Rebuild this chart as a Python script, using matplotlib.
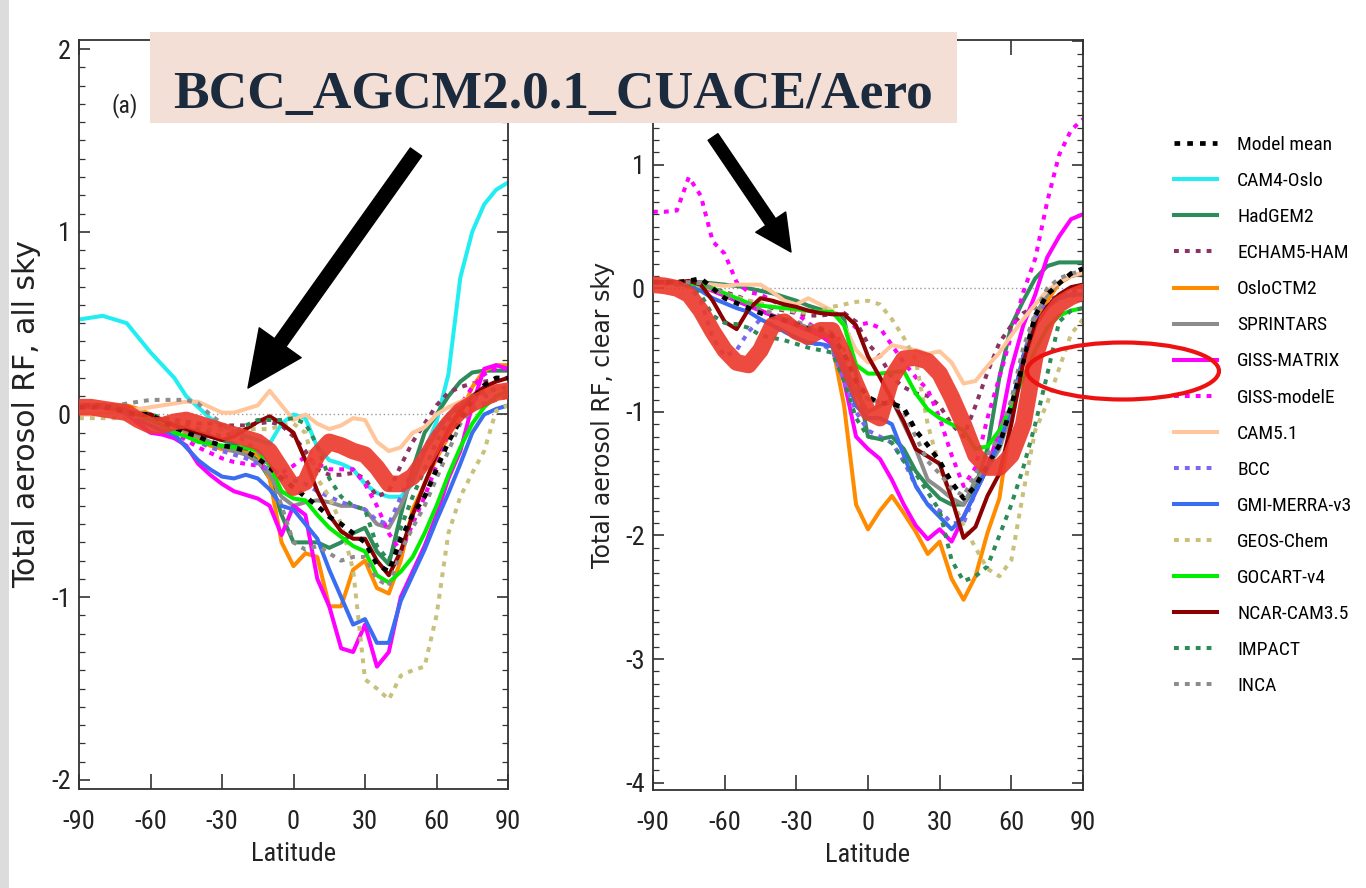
import matplotlib
matplotlib.use("Agg")
import matplotlib.pyplot as plt
from matplotlib import font_manager as fm
from matplotlib.patches import Rectangle, Ellipse, FancyArrowPatch
from matplotlib.ticker import MultipleLocator

# ---------------- data (latitude grid, 5 degree steps) ----------------
lat = list(range(-90, 91, 5))

models = ["Model mean", "CAM4-Oslo", "HadGEM2", "ECHAM5-HAM", "OsloCTM2", "SPRINTARS",
          "GISS-MATRIX", "GISS-modelE", "CAM5.1", "BCC", "GMI-MERRA-v3", "GEOS-Chem",
          "GOCART-v4", "NCAR-CAM3.5", "IMPACT", "INCA"]

xticks = [-90, -60, -30, 0, 30, 60, 90]
yticks_a = [-2, -1, 0, 1, 2]
yticks_b = [-4, -3, -2, -1, 0, 1, 2]
title_text = "BCC_AGCM2.0.1_CUACE/Aero"

# (a) all sky
mean_a = [0.04,0.04,0.04,0.03,0.01,0.0,0.0,-0.04,-0.07,-0.1,-0.12,-0.15,-0.17,-0.18,-0.2,-0.24,-0.29,-0.35,-0.4,-0.45,-0.5,-0.56,-0.6,-0.65,-0.7,-0.82,-0.86,-0.68,-0.55,-0.45,-0.3,-0.15,-0.03,0.08,0.16,0.2,0.2]
cam4_a = [0.52,0.53,0.54,0.52,0.5,0.42,0.34,0.27,0.2,0.1,0.04,-0.02,-0.06,-0.09,-0.12,-0.14,-0.16,-0.05,0.0,-0.02,-0.18,-0.25,-0.27,-0.3,-0.38,-0.43,-0.45,-0.45,-0.38,-0.2,-0.04,0.22,0.75,1.0,1.15,1.23,1.27]
hadgem_a = [0.05,0.05,0.05,0.04,0.02,0.0,-0.01,-0.03,-0.06,-0.08,-0.1,-0.12,-0.14,-0.16,-0.2,-0.25,-0.35,-0.55,-0.7,-0.7,-0.7,-0.73,-0.7,-0.65,-0.62,-0.75,-0.82,-0.55,-0.3,-0.1,0.0,0.1,0.18,0.23,0.24,0.24,0.24]
echam_a = [0.05,0.05,0.04,0.03,0.02,0.0,0.0,-0.02,-0.03,-0.04,-0.05,-0.05,-0.06,-0.06,-0.06,-0.05,-0.04,-0.06,-0.12,-0.2,-0.3,-0.33,-0.33,-0.32,-0.35,-0.45,-0.42,-0.28,-0.15,-0.05,0.05,0.12,0.15,0.17,0.18,0.19,0.2]
oslo_a = [0.05,0.05,0.05,0.05,0.05,0.03,0.0,-0.03,-0.06,-0.1,-0.14,-0.17,-0.19,-0.2,-0.21,-0.22,-0.35,-0.7,-0.83,-0.76,-0.78,-1.05,-1.05,-0.85,-0.8,-0.95,-0.98,-0.8,-0.52,-0.38,-0.24,-0.12,0.0,0.15,0.24,0.27,0.27]
sprint_a = [0.05,0.05,0.05,0.04,0.03,0.01,0.0,-0.03,-0.06,-0.09,-0.12,-0.15,-0.18,-0.2,-0.22,-0.26,-0.33,-0.45,-0.5,-0.48,-0.47,-0.48,-0.5,-0.5,-0.52,-0.6,-0.62,-0.5,-0.35,-0.2,-0.1,0.0,0.05,0.1,0.12,0.14,0.15]
gissm_a = [0.05,0.05,0.05,0.04,0.0,-0.05,-0.1,-0.11,-0.13,-0.17,-0.27,-0.33,-0.38,-0.42,-0.44,-0.46,-0.5,-0.66,-0.5,-0.55,-0.9,-1.05,-1.28,-1.3,-1.15,-1.38,-1.3,-1.0,-0.86,-0.72,-0.55,-0.35,-0.2,0.05,0.25,0.27,0.25]
gisse_a = [0.05,0.05,0.04,0.03,0.01,-0.01,-0.02,-0.06,-0.1,-0.14,-0.18,-0.21,-0.24,-0.26,-0.27,-0.28,-0.3,-0.32,-0.28,-0.23,-0.27,-0.3,-0.3,-0.3,-0.38,-0.5,-0.65,-0.75,-0.6,-0.45,-0.28,-0.1,0.05,0.15,0.22,0.25,0.25]
cam51_a = [0.0,0.0,0.01,0.01,0.02,0.03,0.04,0.05,0.06,0.07,0.07,0.04,0.01,0.01,0.03,0.05,0.13,0.05,-0.03,0.0,-0.05,-0.08,-0.06,-0.02,-0.03,-0.15,-0.2,-0.18,-0.1,-0.07,0.0,0.04,0.07,0.1,0.12,0.14,0.15]
bcc_a = [0.04,0.04,0.04,0.03,0.01,-0.01,-0.03,-0.06,-0.09,-0.12,-0.15,-0.18,-0.2,-0.22,-0.24,-0.27,-0.3,-0.33,-0.36,-0.38,-0.42,-0.45,-0.48,-0.5,-0.52,-0.58,-0.6,-0.45,-0.3,-0.18,-0.08,0.0,0.05,0.08,0.1,0.1,0.1]
gmi_a = [0.04,0.04,0.04,0.03,0.01,-0.03,-0.06,-0.09,-0.11,-0.18,-0.25,-0.3,-0.34,-0.35,-0.33,-0.35,-0.41,-0.5,-0.52,-0.6,-0.68,-0.85,-1.0,-1.15,-1.12,-1.25,-1.25,-1.02,-0.88,-0.74,-0.58,-0.43,-0.27,-0.1,0.0,0.03,0.05]
geos_a = [-0.02,-0.02,-0.02,-0.02,-0.02,-0.01,0.0,-0.02,-0.04,-0.06,-0.07,-0.08,-0.08,-0.08,-0.08,-0.08,-0.08,-0.06,-0.05,-0.1,-0.35,-0.45,-0.6,-0.85,-1.45,-1.5,-1.56,-1.43,-1.4,-1.38,-1.1,-0.65,-0.45,-0.32,-0.2,0.02,0.05]
gocart_a = [0.05,0.05,0.05,0.04,0.02,0.0,-0.03,-0.06,-0.1,-0.12,-0.15,-0.16,-0.17,-0.18,-0.18,-0.2,-0.28,-0.42,-0.46,-0.47,-0.55,-0.62,-0.67,-0.72,-0.75,-0.88,-0.92,-0.86,-0.78,-0.65,-0.5,-0.33,-0.18,-0.05,0.04,0.1,0.13]
ncar_a = [0.05,0.05,0.05,0.04,0.02,0.0,0.0,-0.03,-0.06,-0.08,-0.1,-0.12,-0.14,-0.12,-0.08,-0.04,-0.01,-0.05,-0.1,-0.25,-0.42,-0.55,-0.64,-0.68,-0.68,-0.8,-0.88,-0.75,-0.55,-0.38,-0.22,-0.08,0.02,0.1,0.15,0.18,0.2]
impact_a = [0.05,0.05,0.05,0.04,0.02,0.0,0.0,-0.02,-0.04,-0.06,-0.08,-0.1,-0.12,-0.1,-0.06,-0.03,-0.03,-0.03,-0.02,-0.05,-0.17,-0.35,-0.45,-0.5,-0.52,-0.72,-0.8,-0.62,-0.45,-0.3,-0.15,-0.03,0.05,0.1,0.12,0.14,0.15]
inca_a = [0.05,0.05,0.05,0.05,0.06,0.07,0.08,0.08,0.08,0.08,0.06,0.0,-0.05,-0.1,-0.15,-0.2,-0.3,-0.5,-0.7,-0.74,-0.72,-0.76,-0.8,-0.78,-0.78,-0.9,-0.94,-0.75,-0.62,-0.5,-0.35,-0.2,-0.05,0.03,0.06,0.08,0.1]
bccagcm_a = [0.04,0.04,0.03,0.02,0.01,-0.03,-0.06,-0.06,-0.04,-0.03,-0.05,-0.07,-0.09,-0.11,-0.13,-0.15,-0.2,-0.3,-0.4,-0.37,-0.22,-0.15,-0.17,-0.2,-0.22,-0.29,-0.38,-0.38,-0.34,-0.25,-0.14,-0.05,0.02,0.06,0.09,0.12,0.13]

# (b) clear sky  (CAM4-Oslo not shown)
mean_b = [0.05,0.05,0.05,0.06,0.08,0.0,-0.08,-0.12,-0.16,-0.2,-0.23,-0.26,-0.29,-0.33,-0.33,-0.38,-0.53,-0.75,-0.88,-0.93,-0.93,-0.97,-1.15,-1.27,-1.4,-1.57,-1.7,-1.6,-1.43,-1.27,-0.95,-0.6,-0.22,-0.05,0.04,0.12,0.16]
hadgem_b = [0.05,0.05,0.05,0.05,0.05,0.04,0.03,0.02,0.0,-0.02,-0.04,-0.07,-0.1,-0.14,-0.17,-0.19,-0.25,-0.7,-1.2,-1.22,-1.2,-1.3,-1.48,-1.6,-1.7,-1.75,-1.75,-1.6,-1.3,-0.72,-0.3,-0.1,0.08,0.18,0.21,0.21,0.21]
echam_b = [0.05,0.05,0.05,0.04,0.03,0.0,-0.03,-0.06,-0.1,-0.13,-0.16,-0.18,-0.2,-0.22,-0.22,-0.21,-0.2,-0.27,-0.45,-0.55,-0.72,-0.8,-0.85,-0.87,-0.95,-1.1,-1.2,-0.95,-0.68,-0.44,-0.3,-0.2,-0.15,-0.1,-0.06,-0.03,0.0]
oslo_b = [0.05,0.05,0.05,0.04,0.02,-0.02,-0.06,-0.1,-0.14,-0.18,-0.22,-0.26,-0.3,-0.34,-0.38,-0.45,-0.95,-1.75,-1.95,-1.8,-1.68,-1.82,-1.97,-2.15,-2.05,-2.35,-2.52,-2.33,-1.98,-1.7,-1.05,-0.6,-0.3,-0.1,0.04,0.1,0.12]
sprint_b = [0.05,0.05,0.05,0.05,0.05,0.0,-0.05,-0.1,-0.14,-0.18,-0.22,-0.25,-0.28,-0.32,-0.35,-0.4,-0.6,-0.85,-1.0,-0.95,-0.9,-1.1,-1.3,-1.55,-1.62,-1.7,-1.75,-1.55,-1.45,-1.3,-1.0,-0.55,-0.22,-0.05,0.05,0.1,0.12]
gissm_b = [0.05,0.05,0.05,0.04,0.02,-0.02,-0.06,-0.1,-0.14,-0.18,-0.22,-0.26,-0.3,-0.34,-0.38,-0.45,-0.75,-1.2,-1.3,-1.38,-1.55,-1.75,-1.92,-2.03,-1.95,-2.05,-1.85,-1.65,-1.45,-1.15,-0.65,-0.3,-0.05,0.25,0.42,0.56,0.6]
gisse_b = [0.62,0.62,0.63,0.9,0.75,0.38,0.28,0.05,-0.03,-0.05,-0.1,-0.15,-0.2,-0.28,-0.35,-0.42,-0.4,-0.3,-0.28,-0.32,-0.46,-0.6,-0.72,-0.82,-1.05,-1.35,-1.6,-1.45,-1.05,-0.72,-0.38,-0.03,0.24,0.7,1.08,1.28,1.37]
cam51_b = [0.05,0.05,0.05,0.05,0.04,0.03,0.02,0.03,0.03,0.03,-0.03,-0.1,-0.13,-0.08,-0.13,-0.18,-0.3,-0.5,-0.6,-0.55,-0.46,-0.48,-0.5,-0.53,-0.51,-0.6,-0.77,-0.75,-0.63,-0.52,-0.38,-0.25,-0.13,-0.02,0.05,0.1,0.13]
bcc_b = [0.05,0.05,0.04,0.02,-0.1,-0.4,-0.55,-0.5,-0.35,-0.25,-0.3,-0.35,-0.4,-0.45,-0.45,-0.5,-0.75,-1.0,-1.15,-1.2,-1.25,-1.4,-1.6,-1.75,-1.8,-1.9,-1.9,-1.65,-1.45,-1.25,-1.0,-0.55,-0.25,-0.12,-0.08,-0.06,-0.05]
gmi_b = [0.05,0.05,0.04,0.02,-0.02,-0.08,-0.12,-0.16,-0.19,-0.25,-0.3,-0.35,-0.4,-0.44,-0.45,-0.47,-0.65,-0.95,-1.05,-1.05,-1.1,-1.35,-1.6,-1.75,-1.85,-1.95,-1.85,-1.65,-1.45,-1.25,-0.95,-0.55,-0.3,-0.15,-0.08,-0.05,-0.05]
geos_b = [0.05,0.05,0.05,0.04,0.02,-0.01,-0.04,-0.07,-0.1,-0.12,-0.15,-0.17,-0.19,-0.2,-0.18,-0.15,-0.13,-0.11,-0.1,-0.13,-0.25,-0.4,-0.58,-1.1,-1.45,-1.7,-1.92,-2.1,-2.27,-2.33,-2.2,-1.65,-1.15,-0.93,-0.65,-0.37,-0.25]
gocart_b = [0.05,0.05,0.05,0.04,0.03,0.0,-0.04,-0.08,-0.12,-0.14,-0.15,-0.16,-0.17,-0.18,-0.19,-0.19,-0.3,-0.62,-0.69,-0.69,-0.68,-0.67,-0.85,-0.98,-1.05,-1.1,-1.15,-1.3,-1.28,-1.15,-0.95,-0.72,-0.5,-0.32,-0.22,-0.18,-0.16]
ncar_b = [0.05,0.05,0.05,0.06,0.03,-0.1,-0.27,-0.33,-0.17,-0.08,-0.1,-0.13,-0.15,-0.18,-0.2,-0.21,-0.21,-0.3,-0.55,-0.72,-0.9,-1.08,-1.3,-1.36,-1.42,-1.7,-2.02,-1.93,-1.68,-1.5,-1.1,-0.6,-0.3,-0.15,-0.05,0.01,0.03]
impact_b = [0.05,0.04,0.03,0.02,-0.05,-0.22,-0.28,-0.29,-0.32,-0.38,-0.4,-0.42,-0.45,-0.48,-0.5,-0.52,-0.75,-1.05,-1.2,-1.22,-1.25,-1.4,-1.5,-1.65,-1.8,-2.2,-2.37,-2.33,-2.25,-2.0,-1.75,-1.45,-1.1,-0.7,-0.27,-0.18,-0.16]
inca_b = [0.05,0.05,0.05,0.05,0.04,0.0,-0.05,-0.1,-0.13,-0.17,-0.2,-0.24,-0.27,-0.3,-0.32,-0.36,-0.5,-0.75,-0.9,-0.92,-0.93,-1.0,-1.2,-1.4,-1.5,-1.62,-1.68,-1.5,-1.35,-1.2,-0.9,-0.48,-0.2,0.0,0.08,0.12,0.14]
bccagcm_b = [0.03,0.02,0.0,-0.05,-0.18,-0.35,-0.5,-0.6,-0.62,-0.5,-0.3,-0.27,-0.35,-0.39,-0.34,-0.34,-0.55,-0.78,-1.0,-1.05,-0.72,-0.57,-0.56,-0.59,-0.69,-0.88,-1.1,-1.35,-1.45,-1.45,-1.35,-1.1,-0.55,-0.25,-0.13,-0.07,-0.03]

series_a = {"Model mean": mean_a, "CAM4-Oslo": cam4_a, "HadGEM2": hadgem_a, "ECHAM5-HAM": echam_a,
            "OsloCTM2": oslo_a, "SPRINTARS": sprint_a, "GISS-MATRIX": gissm_a, "GISS-modelE": gisse_a,
            "CAM5.1": cam51_a, "BCC": bcc_a, "GMI-MERRA-v3": gmi_a, "GEOS-Chem": geos_a,
            "GOCART-v4": gocart_a, "NCAR-CAM3.5": ncar_a, "IMPACT": impact_a, "INCA": inca_a}
series_b = {"Model mean": mean_b, "CAM4-Oslo": None, "HadGEM2": hadgem_b, "ECHAM5-HAM": echam_b,
            "OsloCTM2": oslo_b, "SPRINTARS": sprint_b, "GISS-MATRIX": gissm_b, "GISS-modelE": gisse_b,
            "CAM5.1": cam51_b, "BCC": bcc_b, "GMI-MERRA-v3": gmi_b, "GEOS-Chem": geos_b,
            "GOCART-v4": gocart_b, "NCAR-CAM3.5": ncar_b, "IMPACT": impact_b, "INCA": inca_b}

# ---------------- styles ----------------
DOT = (0, (1.2, 1.5))
style = {
    "Model mean":   dict(color="#000000", ls=DOT),
    "CAM4-Oslo":    dict(color="#22eef2", ls="-"),
    "HadGEM2":      dict(color="#2e8b5a", ls="-"),
    "ECHAM5-HAM":   dict(color="#8b3462", ls=DOT),
    "OsloCTM2":     dict(color="#ff8c00", ls="-"),
    "SPRINTARS":    dict(color="#8c8c8c", ls="-"),
    "GISS-MATRIX":  dict(color="#ff00ff", ls="-"),
    "GISS-modelE":  dict(color="#ff00ff", ls=DOT),
    "CAM5.1":       dict(color="#ffc69c", ls="-"),
    "BCC":          dict(color="#7b68ee", ls=DOT),
    "GMI-MERRA-v3": dict(color="#3a6df0", ls="-"),
    "GEOS-Chem":    dict(color="#c9c07c", ls=DOT),
    "GOCART-v4":    dict(color="#00ee00", ls="-"),
    "NCAR-CAM3.5":  dict(color="#8b0000", ls="-"),
    "IMPACT":       dict(color="#2e8b57", ls=DOT),
    "INCA":         dict(color="#8c8c8c", ls=DOT),
}


# ---------------- fonts: look for a narrow / condensed sans ----------------
def find_narrow():
    paths = [f.fname for f in fm.fontManager.ttflist]
    names = {p.lower().replace("\\", "/").split("/")[-1]: p for p in paths}
    prefs = ["liberationsansnarrow-regular", "arialnarrow.", "robotocondensed-regular",
             "dejavusanscondensed.", "notosans-condensed.", "notosanscondensed-regular",
             "opensans-condensed", "opensans_condensed-regular"]
    for key in prefs:
        for n, p in names.items():
            if n.startswith(key):
                return p
    bad = ("bold", "italic", "oblique", "light", "thin", "black", "medium", "semi", "extra", "mono")
    for n, p in sorted(names.items()):
        if ("narrow" in n or "condensed" in n) and not any(b in n for b in bad):
            return p
    return None


NARROW_PATH = find_narrow()


def narrow(size):
    if NARROW_PATH:
        return fm.FontProperties(fname=NARROW_PATH, size=size)
    return fm.FontProperties(family=["Liberation Sans", "DejaVu Sans"], size=size * 0.82)


plt.rcParams["font.family"] = ["Liberation Sans", "DejaVu Sans"]
plt.rcParams["axes.unicode_minus"] = False

W, H = 1366, 888
fig = plt.figure(figsize=(W / 100, H / 100), dpi=100)
fig.patch.set_facecolor("white")


def fx(px):
    return px / W


def fy(py):
    return 1 - py / H


# left gray strip of the slide
fig.add_artist(Rectangle((0, 0), fx(9), 1, transform=fig.transFigure,
                         facecolor="#dcdcdc", edgecolor="none", zorder=0))

ax1 = fig.add_axes([fx(79), fy(789), (508 - 79) / W, (789 - 40) / H])
ax2 = fig.add_axes([fx(653), fy(790), (1083 - 653) / W, (790 - 40) / H])


def draw_panel(ax, series, overlay, yticks, ylim, ylabel, ylabel_size):
    ax.axhline(0, color="#9a9a9a", lw=1.0, ls=(0, (1, 2)), zorder=1)
    for name in models:
        vals = series[name]
        if vals is None:
            continue
        st = style[name]
        lw = 3.4 if name == "Model mean" else 2.9
        z = 3 if name == "Model mean" else 2
        ax.plot(lat, vals, color=st["color"], ls=st["ls"], lw=lw, label=name, zorder=z,
                solid_joinstyle="round")
    ax.plot(lat, overlay, color="#ec3b2e", lw=12, alpha=0.92, zorder=4,
            solid_joinstyle="round", solid_capstyle="round")
    ax.set_xlim(-90, 90)
    ax.set_ylim(*ylim)
    ax.set_xticks(xticks, labels=[f"{v:g}" for v in xticks], fontproperties=narrow(19))
    ax.set_yticks(yticks, labels=[f"{v:g}" for v in yticks], fontproperties=narrow(19))
    ax.yaxis.set_minor_locator(MultipleLocator(0.1))
    ax.tick_params(axis="both", which="both", direction="in", top=True, right=True,
                   colors="#333333", labelcolor="#222222")
    ax.tick_params(axis="x", which="major", length=11, width=1.2, pad=15)
    ax.tick_params(axis="y", which="major", length=8, width=1.2, pad=6)
    ax.tick_params(axis="y", which="minor", length=4, width=0.9)
    for sp in ax.spines.values():
        sp.set_linewidth(1.3)
        sp.set_color("#333333")
    ax.set_xlabel("Latitude", fontproperties=narrow(19), labelpad=6, color="#222222")
    ax.set_ylabel(ylabel, fontsize=ylabel_size, family=["DejaVu Sans"], labelpad=7,
                  color="#222222")


draw_panel(ax1, series_a, bccagcm_a, yticks_a, (-2.05, 2.05), "Total aerosol RF, all sky", 21.5)
draw_panel(ax2, series_b, bccagcm_b, yticks_b, (-4.06, 2.01), "Total aerosol RF, clear sky", 17)

ax1.text(0.107, 0.913, "(a)", transform=ax1.transAxes, fontproperties=narrow(17),
         ha="center", va="center", color="#222222")

# legend
handles, labels = ax1.get_legend_handles_labels()
fig.legend(handles, labels, loc="upper left", bbox_to_anchor=(fx(1174), fy(136)),
           frameon=False, prop=narrow(14), handlelength=2.2, handletextpad=1.05,
           labelspacing=0.93, borderpad=0, borderaxespad=0)

# title box
fig.add_artist(Rectangle((fx(150), fy(123)), (957 - 150) / W, (123 - 32) / H,
                         transform=fig.transFigure, facecolor="#f3dfd5", edgecolor="none",
                         zorder=10))
fig.text(fx(553), fy(108), title_text, ha="center", va="baseline", fontsize=38.5,
         fontweight="bold", family=["Liberation Serif", "DejaVu Serif"], color="#1b2a3c",
         zorder=11)

# arrows
fig.add_artist(FancyArrowPatch(posA=(fx(416), fy(152)), posB=(fx(248), fy(388)),
                               transform=fig.transFigure,
                               arrowstyle="simple,head_length=40,head_width=37,tail_width=10",
                               mutation_scale=1, color="black", shrinkA=0, shrinkB=0, zorder=12))
fig.add_artist(FancyArrowPatch(posA=(fx(713), fy(137)), posB=(fx(791), fy(252)),
                               transform=fig.transFigure,
                               arrowstyle="simple,head_length=26,head_width=26,tail_width=8.5",
                               mutation_scale=1, color="black", shrinkA=0, shrinkB=0, zorder=12))

# red ellipse
fig.add_artist(Ellipse((11.23, (H - 371) / 100), 1.92, 0.57, angle=0,
                       transform=fig.dpi_scale_trans, fill=False, edgecolor="#ee1111",
                       lw=3, zorder=12))

fig.savefig("out.png", dpi=100)
